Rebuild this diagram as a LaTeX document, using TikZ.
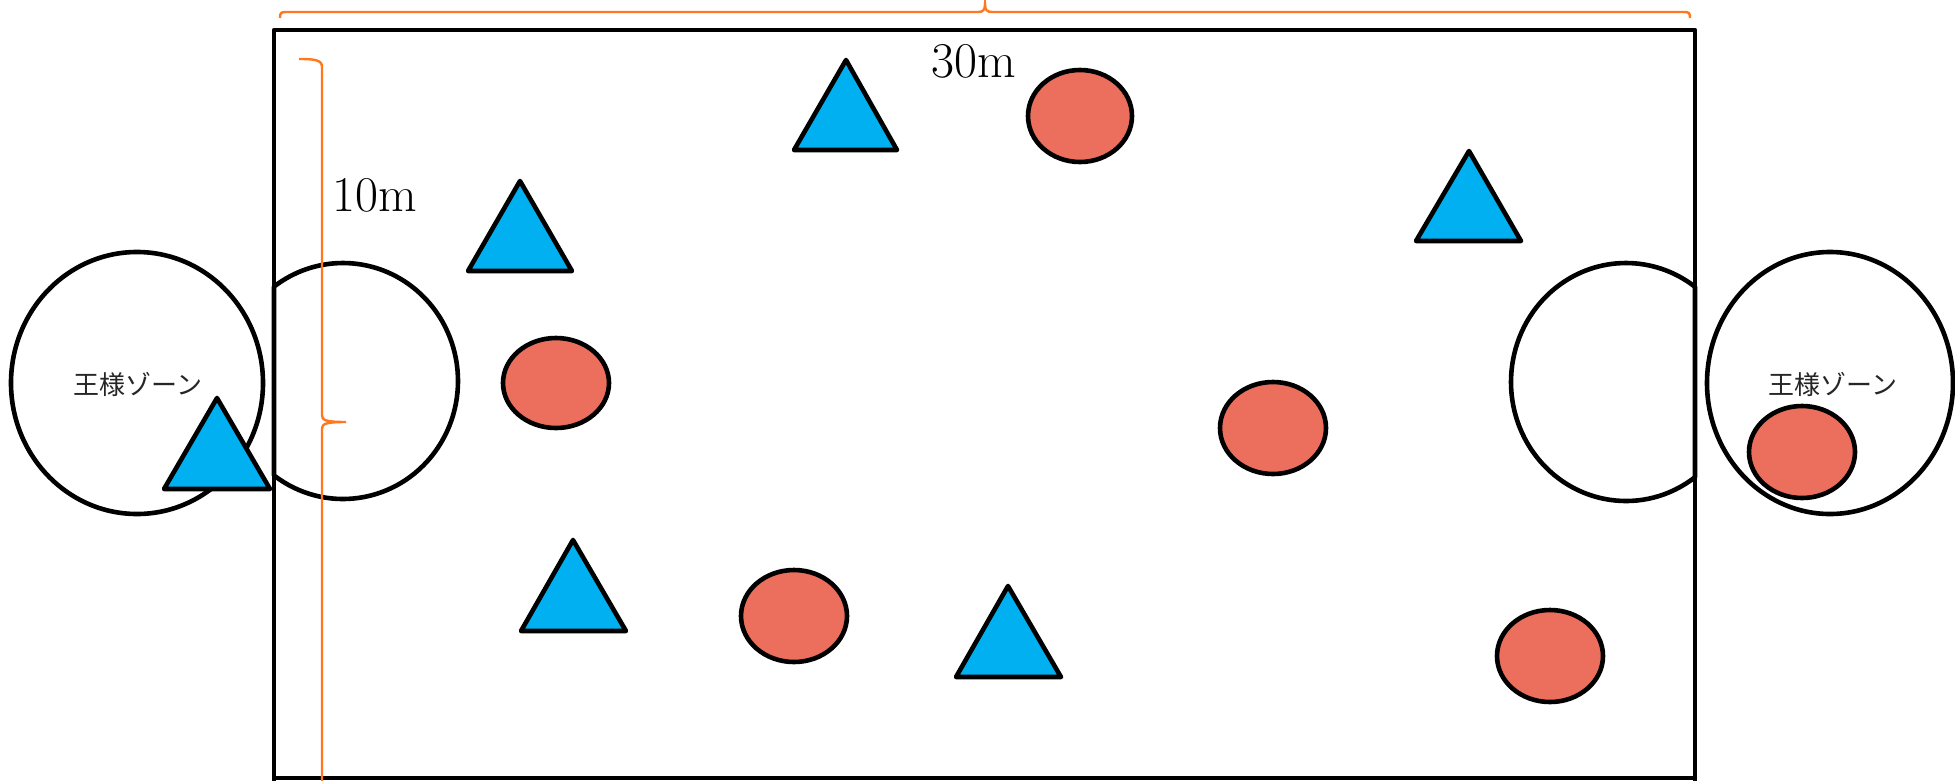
\documentclass[tikz,border=0pt]{standalone}
\usepackage{fontspec}
\newfontfamily\jpfont{Noto Sans CJK JP}
\definecolor{ballred}{RGB}{235,111,92}
\definecolor{triblue}{RGB}{0,176,240}
\definecolor{braceor}{RGB}{255,120,30}
\begin{document}
\begin{tikzpicture}[x=1pt,y=-1pt,
  outl/.style={draw=black,line width=4.6pt,line join=round},
  redball/.style={outl,fill=ballred},
  bluetri/.style={outl,fill=triblue},
  zone/.style={outl,fill=white},
  bracec/.style={draw=braceor,line width=2.4pt},
  dimlabel/.style={font=\fontsize{50}{56}\selectfont,inner sep=0pt},
  zonelabel/.style={font=\jpfont\fontsize{26}{30}\selectfont,inner sep=0pt,text=black!85}]
\useasboundingbox (0,0) rectangle (1955,780);
% field
\draw[outl] (274,782) -- (274,30) -- (1695,30) -- (1695,782);
\draw[outl] (274,778) -- (1695,778);
% big king zones
\draw[zone] (137,383) ellipse[x radius=126, y radius=131];
\draw[zone] (1830,383) ellipse[x radius=123, y radius=131];
% inner half circles
\draw[zone] (274,475.4) arc[start angle=126.87, end angle=-126.87, x radius=115, y radius=118] -- cycle;
\draw[zone] (1695,477.2) arc[start angle=53.13, end angle=306.87, x radius=115, y radius=119] -- cycle;
% labels in zones
\node[zonelabel] (zl) at (138,384) {王様ゾーン};
\node[zonelabel] (zr) at (1833,384) {王様ゾーン};
% braces
\draw[bracec] (280,18) .. controls (280,13) and (281,12) .. (286,12) -- (978,12) .. controls (983,12) and (985,10) .. (985,4) .. controls (985,10) and (987,12) .. (992,12) -- (1684,12) .. controls (1689,12) and (1690,13) .. (1690,18);
\draw[bracec] (299,59) .. controls (315,59) and (322,60) .. (322,67) -- (322,415) .. controls (322,420) and (325,422) .. (346,422) .. controls (325,422) and (322,424) .. (322,429) -- (322,782);
\node[dimlabel] (w) at (974,61) {30m};
\node[dimlabel] (h) at (375,195) {10m};
% red balls
\draw[redball] (1080,116) ellipse[x radius=52, y radius=46];
\draw[redball] (556,383) ellipse[x radius=53, y radius=45];
\draw[redball] (1273,428) ellipse[x radius=53, y radius=46];
\draw[redball] (794,616) ellipse[x radius=53, y radius=46];
\draw[redball] (1550,656) ellipse[x radius=53, y radius=46];
\draw[redball] (1802,452) ellipse[x radius=53, y radius=46];
% blue triangles
\draw[bluetri] (217,398) -- (164,489) -- (270,489) -- cycle;
\draw[bluetri] (846,60) -- (794,150) -- (897,150) -- cycle;
\draw[bluetri] (520,181) -- (468,271) -- (572,271) -- cycle;
\draw[bluetri] (1469,151) -- (1416,241) -- (1521,241) -- cycle;
\draw[bluetri] (573,540) -- (521,631) -- (626,631) -- cycle;
\draw[bluetri] (1008,586) -- (956,677) -- (1061,677) -- cycle;
\end{tikzpicture}
\end{document}
